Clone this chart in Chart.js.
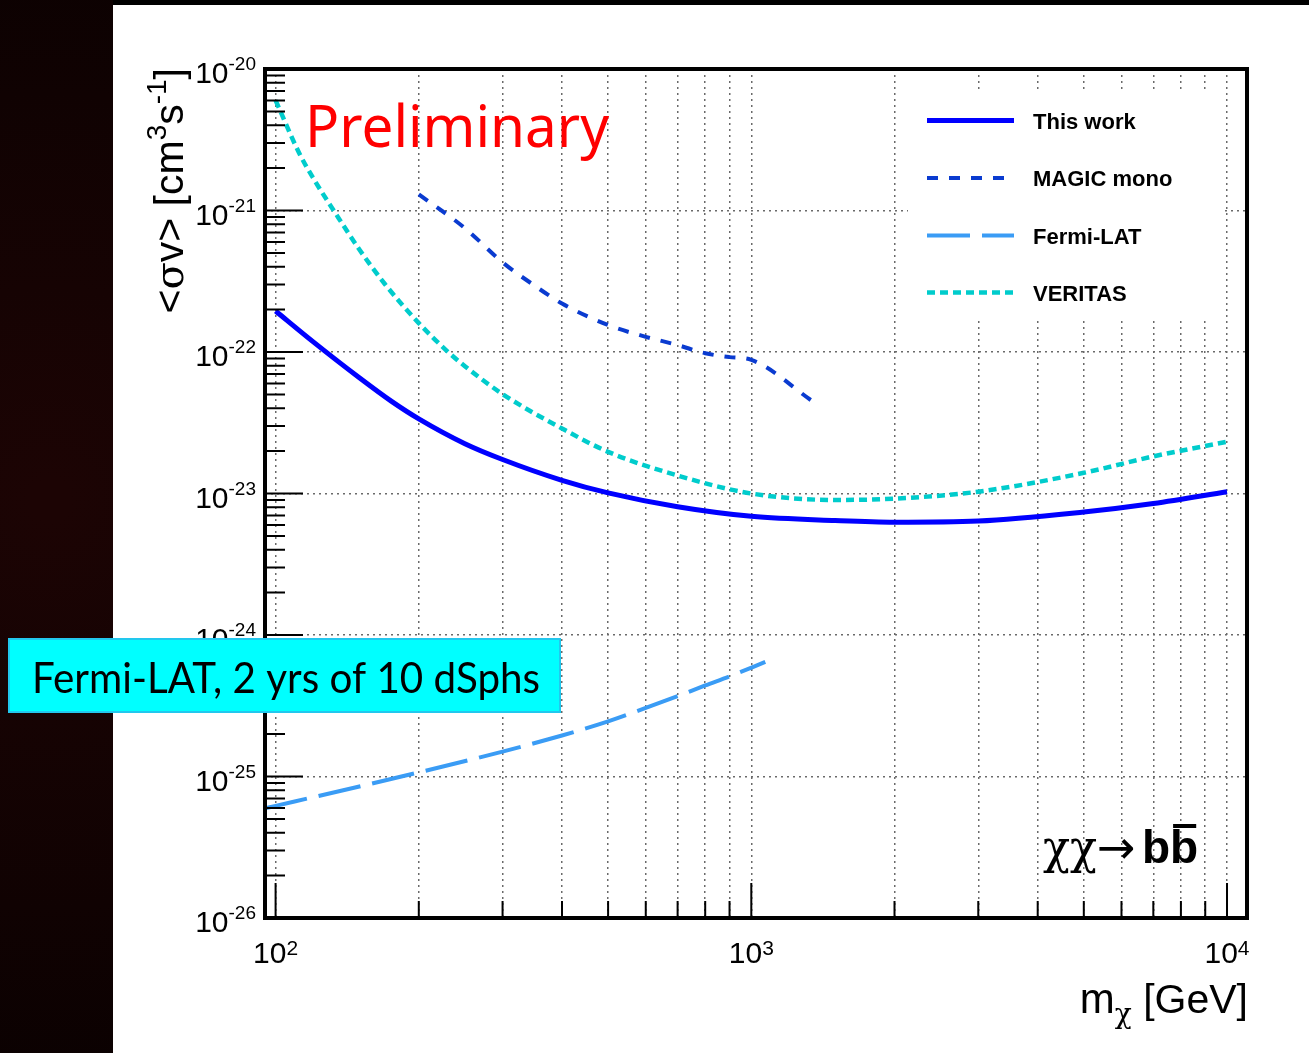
<!DOCTYPE html>
<html>
<head>
<meta charset="utf-8">
<script src="https://cdn.jsdelivr.net/npm/chart.js@4.4.1/dist/chart.umd.min.js"></script>
<style>
  html, body { margin: 0; padding: 0; background: #000; }
  canvas { display: block; }
</style>
</head>
<body>
<canvas id="limitChart" width="1309" height="1053"></canvas>
<script>
// upper limits on <sigma v>, chi chi -> b bbar
const massThisWork = [100, 120, 150, 175, 200, 250, 300, 400, 500, 700, 1000, 1500, 2000, 3000, 5000, 7000, 10000];
const sigmaThisWork = [1.95e-22, 1.18e-22, 6.58e-23, 4.5e-23, 3.37e-23, 2.25e-23, 1.74e-23, 1.24e-23, 1.01e-23, 8.06e-24, 6.9e-24, 6.44e-24, 6.27e-24, 6.39e-24, 7.4e-24, 8.5e-24, 1.03e-23];

const massMagic = [200, 250, 300, 350, 400, 500, 600, 700, 800, 900, 1000, 1350];
const sigmaMagic = [1.30e-21, 7.5e-22, 4.3e-22, 2.95e-22, 2.2e-22, 1.55e-22, 1.28e-22, 1.12e-22, 9.8e-23, 9.2e-23, 8.8e-23, 4.45e-23];

const massFermi = [95, 100, 200, 300, 400, 500, 600, 700, 800, 900, 1070];
const sigmaFermi = [5.96e-26, 6.2e-26, 1.07e-25, 1.5e-25, 1.95e-25, 2.45e-25, 3.05e-25, 3.7e-25, 4.4e-25, 5.1e-25, 6.45e-25];

const massVeritas = [100, 112, 120, 133, 150, 170, 200, 229, 250, 300, 400, 500, 700, 1000, 1500, 2000, 3000, 5000, 7000, 10000];
const sigmaVeritas = [6.0e-21, 2.56e-21, 1.69e-21, 9.8e-22, 5.3e-22, 3.0e-22, 1.6e-22, 1.02e-22, 7.94e-23, 5.04e-23, 2.88e-23, 1.97e-23, 1.34e-23, 1.0e-23, 9.0e-24, 9.2e-24, 1.03e-23, 1.4e-23, 1.83e-23, 2.32e-23];

const seriesNames = ['This work', 'MAGIC mono', 'Fermi-LAT', 'VERITAS'];

const xTickValues = [100, 200, 300, 400, 500, 600, 700, 800, 900, 1000, 2000, 3000, 4000, 5000, 6000, 7000, 8000, 9000, 10000];
const xLabelValues = [100, 1000, 10000];
const xLabelExponents = ['2', '3', '4'];
const yLabelValues = [1e-26, 1e-25, 1e-24, 1e-23, 1e-22, 1e-21, 1e-20];
const yLabelExponents = ['-26', '-25', '-24', '-23', '-22', '-21', '-20'];

// minor ticks 2..9 inside every decade
const yTickValues = [];
yLabelValues.forEach((d, i) => {
  yTickValues.push(d);
  if (i < yLabelValues.length - 1) {
    for (let k = 2; k <= 9; k++) yTickValues.push(k * d);
  }
});

const toPoints = (xs, ys) => xs.map((x, i) => ({ x: x, y: ys[i] }));
const isDecade = v => Math.abs(Math.log10(v) - Math.round(Math.log10(v))) < 1e-6;

const HELV = '"Liberation Sans", Arial, sans-serif';
const SYMB = '"DejaVu Serif", "Liberation Serif", serif';
const ARROW = '"DejaVu Sans", sans-serif';

function drawPower(c, exp, x, yBase, ySup, align, baseSize, supSize) {
  c.font = baseSize + 'px ' + HELV;
  const wb = c.measureText('10').width;
  c.font = supSize + 'px ' + HELV;
  const ws = c.measureText(exp).width;
  let x0 = x;
  if (align === 'right') x0 = x - wb - ws;
  if (align === 'center') x0 = x - (wb + ws) / 2;
  c.textAlign = 'left';
  c.font = baseSize + 'px ' + HELV;
  c.fillText('10', x0, yBase);
  c.font = supSize + 'px ' + HELV;
  c.fillText(exp, x0 + wb, ySup);
}

// runs: [text, size, dy, family, weight]
function setRunFont(c, r) {
  c.font = (r[4] || '') + ' ' + r[1] + 'px ' + (r[3] || HELV);
}

function drawRuns(c, runs, x, y) {
  let cx = x;
  runs.forEach(r => {
    setRunFont(c, r);
    c.fillText(r[0], cx, y + r[2]);
    cx += c.measureText(r[0]).width;
  });
  return cx;
}

function runsWidth(c, runs) {
  let w = 0;
  runs.forEach(r => {
    setRunFont(c, r);
    w += c.measureText(r[0]).width;
  });
  return w;
}

const rootStyle = {
  id: 'rootStyle',
  beforeDraw(chart) {
    const c = chart.ctx;
    c.save();
    c.fillStyle = '#000';
    c.fillRect(0, 0, chart.width, chart.height);
    const g = c.createRadialGradient(50, 500, 20, 50, 500, 600);
    g.addColorStop(0, '#1c0404');
    g.addColorStop(1, '#0a0101');
    c.fillStyle = g;
    c.fillRect(0, 0, 113, chart.height);
    c.fillStyle = '#fff';
    c.fillRect(113, 5, chart.width - 113, chart.height - 5);
    c.restore();
  },
  beforeDatasetsDraw(chart) {
    // legend fill hides the grid
    const c = chart.ctx;
    c.save();
    c.fillStyle = '#fff';
    c.fillRect(908, 90, 316, 229);
    c.restore();
  },
  afterDraw(chart) {
    const c = chart.ctx;
    const a = chart.chartArea;
    const xs = chart.scales.x;
    const ys = chart.scales.y;
    c.save();

    // tick marks, drawn inward
    c.strokeStyle = '#000';
    c.lineWidth = 2;
    c.setLineDash([]);
    c.beginPath();
    xTickValues.forEach(v => {
      const px = xs.getPixelForValue(v);
      const len = isDecade(v) ? 35 : 17;
      c.moveTo(px, a.bottom);
      c.lineTo(px, a.bottom - len);
    });
    yTickValues.forEach(v => {
      const py = ys.getPixelForValue(v);
      const len = isDecade(v) ? 38 : 20;
      c.moveTo(a.left, py);
      c.lineTo(a.left + len, py);
    });
    c.stroke();

    // frame
    c.lineWidth = 4;
    c.strokeRect(a.left, a.top, a.right - a.left, a.bottom - a.top);

    // tick labels
    c.fillStyle = '#000';
    c.textBaseline = 'alphabetic';
    yLabelValues.forEach((v, i) => {
      const py = ys.getPixelForValue(v);
      drawPower(c, yLabelExponents[i], 256, py + 14, py + 1, 'right', 30, 19);
    });
    xLabelValues.forEach((v, i) => {
      const px = xs.getPixelForValue(v);
      drawPower(c, xLabelExponents[i], px, a.bottom + 45, a.bottom + 37, 'center', 30, 21);
    });

    // y title, rotated
    c.save();
    c.translate(183, 68);
    c.rotate(-Math.PI / 2);
    const yRuns = [['<', 41, 0], ['σ', 40, 0, SYMB], ['v> [cm', 41, 0], ['3', 28, -17], ['s', 41, 0], ['-1', 28, -17], [']', 41, 0]];
    drawRuns(c, yRuns, -runsWidth(c, yRuns), 0);
    c.restore();

    // x title
    const xRuns = [['m', 42, 0], ['χ', 28, 10, SYMB], [' [GeV]', 41, 0]];
    drawRuns(c, xRuns, 1248 - runsWidth(c, xRuns), 1013);

    // channel label
    c.font = '46px ' + SYMB;
    c.fillText('χχ', 1043, 863, 54);
    c.font = '46px ' + ARROW;
    c.fillText('→', 1097, 863, 42);
    c.font = 'bold 46px ' + HELV;
    const wb = c.measureText('b').width;
    c.fillText('b', 1142, 863);
    c.fillText('b', 1142 + wb, 863);
    c.fillRect(1142 + wb + 3, 824, wb - 5, 4);

    // Preliminary
    c.fillStyle = '#ff0000';
    c.font = '58px "Noto Sans", "Open Sans", sans-serif';
    c.fillText('Preliminary', 305, 147, 304);

    // legend
    const legY = [120.5, 178, 235.5, 292.5];
    chart.data.datasets.forEach((ds, i) => {
      c.strokeStyle = ds.borderColor;
      c.lineWidth = ds.borderWidth;
      c.setLineDash(ds.borderDash || []);
      c.beginPath();
      c.moveTo(927, legY[i]);
      c.lineTo(1014, legY[i]);
      c.stroke();
      c.setLineDash([]);
      c.fillStyle = '#000';
      c.font = 'bold 22px ' + HELV;
      c.fillText(ds.label, 1033, legY[i] + 8);
    });

    // Fermi-LAT note box
    c.fillStyle = '#00ffff';
    c.fillRect(9, 639, 551, 73);
    c.strokeStyle = '#22c8ee';
    c.lineWidth = 2;
    c.strokeRect(9, 639, 551, 73);
    c.fillStyle = '#000';
    c.font = '42px Lato, "Open Sans", sans-serif';
    c.fillText('Fermi-LAT, 2 yrs of 10 dSphs', 32, 693, 508);

    c.restore();
  }
};

const ctx = document.getElementById('limitChart');

new Chart(ctx, {
  type: 'line',
  data: {
    datasets: [{
      label: seriesNames[0],
      data: toPoints(massThisWork, sigmaThisWork),
      borderColor: '#0000ff',
      borderWidth: 5
    }, {
      label: seriesNames[1],
      data: toPoints(massMagic, sigmaMagic),
      borderColor: '#0a3bd0',
      borderWidth: 4,
      borderDash: [11, 11]
    }, {
      label: seriesNames[2],
      data: toPoints(massFermi, sigmaFermi),
      borderColor: '#3a9cf5',
      borderWidth: 4,
      borderDash: [43, 12]
    }, {
      label: seriesNames[3],
      data: toPoints(massVeritas, sigmaVeritas),
      borderColor: '#00cccc',
      borderWidth: 4.5,
      borderDash: [8, 5]
    }]
  },
  options: {
    responsive: false,
    animation: false,
    devicePixelRatio: 1,
    layout: { padding: { left: 265, top: 69, right: 62, bottom: 135 } },
    elements: {
      point: { radius: 0 },
      line: { cubicInterpolationMode: 'monotone', borderCapStyle: 'butt' }
    },
    scales: {
      x: {
        type: 'logarithmic',
        min: 95,
        max: 11016,
        afterBuildTicks: s => { s.ticks = xTickValues.map(v => ({ value: v })); },
        ticks: { display: false },
        grid: { drawTicks: false, color: '#6a6a6a', lineWidth: 1.5 },
        border: { display: false, dash: [2, 4] }
      },
      y: {
        type: 'logarithmic',
        min: 1e-26,
        max: 1e-20,
        afterBuildTicks: s => { s.ticks = yTickValues.map(v => ({ value: v })); },
        ticks: { display: false },
        grid: {
          drawTicks: false,
          lineWidth: 1.5,
          color: c => (c.tick && isDecade(c.tick.value)) ? '#6a6a6a' : 'rgba(0,0,0,0)'
        },
        border: { display: false, dash: [2, 4] }
      }
    },
    plugins: {
      legend: { display: false },
      tooltip: { enabled: false }
    }
  },
  plugins: [rootStyle]
});
</script>
</body>
</html>
